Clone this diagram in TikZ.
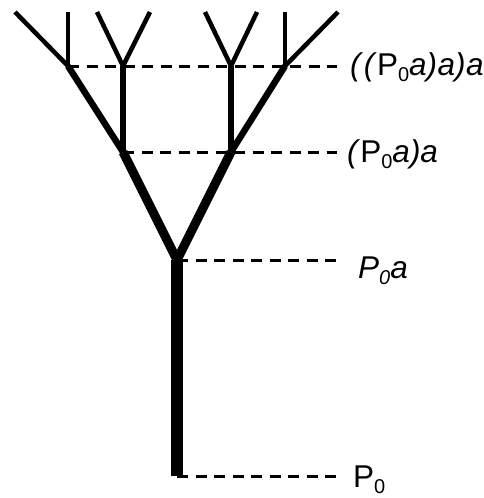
\documentclass[tikz,border=0pt]{standalone}
\usepackage{fontspec}
\setmainfont{Liberation Sans}
\newcommand\lowsub[1]{\raisebox{-6.5pt}{\fontsize{20}{20}\selectfont #1}}
\tikzset{
  trunk/.style={line width=11.5pt},
  lvla/.style={line width=9pt},
  lvlb/.style={line width=6.5pt},
  lvlc/.style={line width=4.5pt},
  guide/.style={line width=3pt, dash pattern=on 11pt off 7.5pt},
  lab/.style={anchor=base west, inner sep=0pt, font=\fontsize{31.5}{31.5}\selectfont}
}
\begin{document}
\begin{tikzpicture}[x=1pt,y=-1pt]
\useasboundingbox (0,0) rectangle (484,498);
% junctions
\coordinate (base) at (177,476);
\coordinate (fork) at (177,260);
\coordinate (jl) at (123,152);
\coordinate (jr) at (231,152);
\coordinate (jll) at (68,66);
\coordinate (jlr) at (123,66);
\coordinate (jrl) at (231,66);
\coordinate (jrr) at (285,66);
% tips
\coordinate (t1) at (15,12);
\coordinate (t2) at (68,12);
\coordinate (t3) at (97,12);
\coordinate (t4) at (150,12);
\coordinate (t5) at (205,12);
\coordinate (t6) at (257,12);
\coordinate (t7) at (285,12);
\coordinate (t8) at (338,12);
% guide ends
\coordinate (e0) at (337,476);
\coordinate (e1) at (337,260);
\coordinate (e2) at (337,152);
\coordinate (e3) at (337,66);
% dashed guides
\draw[guide] (base) -- (e0);
\draw[guide] (fork) -- (e1);
\draw[guide] (jl) -- (e2);
\draw[guide] (jll) -- (e3);
% tree
\draw[trunk] (base) -- (fork);
\draw[lvla] (fork) -- (jl);
\draw[lvla] (fork) -- (jr);
\draw[lvlb] (jl) -- (jll);
\draw[lvlb] (jl) -- (jlr);
\draw[lvlb] (jr) -- (jrl);
\draw[lvlb] (jr) -- (jrr);
\draw[lvlc] (jll) -- (t1);
\draw[lvlc] (jll) -- (t2);
\draw[lvlc] (jlr) -- (t3);
\draw[lvlc] (jlr) -- (t4);
\draw[lvlc] (jrl) -- (t5);
\draw[lvlc] (jrl) -- (t6);
\draw[lvlc] (jrr) -- (t7);
\draw[lvlc] (jrr) -- (t8);
% labels
\node[lab] (l3) at (350,75) {\textit{(}\kern0.5pt\textit{(}P\lowsub{0}\textit{a)}\kern0.5pt\textit{a)}\kern0.5pt\textit{a}};
\node[lab] (l2) at (347,162) {\textit{(}P\lowsub{0}\textit{a)a}};
\node[lab] (l1) at (358,278) {\textit{P}\lowsub{\itshape 0}\textit{a}};
\node[lab] (l0) at (353,487) {P\lowsub{0}};
\end{tikzpicture}
\end{document}
